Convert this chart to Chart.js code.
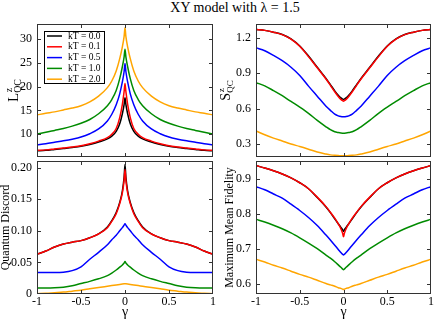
<!DOCTYPE html>
<html><head><meta charset="utf-8">
<script src="https://cdn.jsdelivr.net/npm/chart.js@4/dist/chart.umd.min.js"></script>
<style>
html,body{margin:0;padding:0;background:#fff}
body{width:436px;height:321px;overflow:hidden;position:relative;font-family:"Liberation Serif",serif}
canvas{position:absolute}
#title{position:absolute;left:0;top:0;width:470px;text-align:center;font-size:14px;line-height:normal;color:#000;white-space:nowrap}
</style></head><body>
<div id="title">XY model with λ = 1.5</div>
<canvas id="cL" width="218" height="160" style="left:0;top:0"></canvas>
<canvas id="cS" width="218" height="160" style="left:218px;top:0"></canvas>
<canvas id="cQ" width="218" height="161" style="left:0;top:160px"></canvas>
<canvas id="cF" width="218" height="161" style="left:218px;top:160px"></canvas>
<script>
// ---- data ----
const gamma = [-1,-0.9,-0.8,-0.7,-0.6,-0.5,-0.4,-0.3,-0.2,-0.15,-0.1,-0.06,-0.03,-0.01,0,0.01,0.03,0.06,0.1,0.15,0.2,0.3,0.4,0.5,0.6,0.7,0.8,0.9,1];
const kTLabels = ['kT = 0.0','kT = 0.1','kT = 0.5','kT = 1.0','kT = 2.0'];
const xTicks = [-1,-0.5,0,0.5,1];
const xTickLabels = ['-1','-0.5','0','0.5','1'];

// L^z_QC
const lqc_kT00 = [6.5,6.6,6.8,7.0,7.2,7.45,7.85,8.35,9.0,9.6,10.6,12.2,14.3,16.3,17.7,16.3,14.3,12.2,10.6,9.6,9.0,8.35,7.85,7.45,7.2,7.0,6.8,6.6,6.5];
const lqc_kT01 = [6.6,6.7,6.9,7.1,7.3,7.55,8.0,8.55,9.3,10.0,11.2,13.5,16.3,19.0,20.7,19.0,16.3,13.5,11.2,10.0,9.3,8.55,8.0,7.55,7.3,7.1,6.9,6.7,6.6];
const lqc_kT05 = [7.75,8.0,8.3,8.6,8.95,9.4,10.1,11.1,12.8,14.2,16.2,18.5,21.0,23.2,24.9,23.2,21.0,18.5,16.2,14.2,12.8,11.1,10.1,9.4,8.95,8.6,8.3,8.0,7.75];
const lqc_kT10 = [10.06,10.4,10.8,11.2,11.7,12.3,13.1,14.3,16.0,17.3,19.2,21.7,24.2,26.3,27.9,26.3,24.2,21.7,19.2,17.3,16.0,14.3,13.1,12.3,11.7,11.2,10.8,10.4,10.06];
const lqc_kT20 = [14.06,14.4,14.7,15.1,15.5,16.0,16.8,18.0,19.8,21.2,23.3,25.9,28.4,30.6,32.4,30.6,28.4,25.9,23.3,21.2,19.8,18.0,16.8,16.0,15.5,15.1,14.7,14.4,14.06];
const lqcTicks = [10,15,20,25,30];
const lqcTickLabels = ['10','15','20','25','30'];

// S^z_QC
const sqc_kT00 = [1.270,1.262,1.247,1.227,1.19,1.13,1.045,0.95,0.855,0.803,0.75,0.712,0.69,0.68,0.677,0.68,0.69,0.712,0.75,0.803,0.855,0.95,1.045,1.13,1.19,1.227,1.247,1.262,1.270];
const sqc_kT01 = [1.270,1.262,1.247,1.226,1.188,1.127,1.04,0.945,0.85,0.797,0.742,0.702,0.678,0.667,0.663,0.667,0.678,0.702,0.742,0.797,0.85,0.945,1.04,1.127,1.188,1.226,1.247,1.262,1.270];
const sqc_kT05 = [1.115,1.09,1.05,1.005,0.95,0.88,0.79,0.705,0.62,0.585,0.553,0.538,0.532,0.530,0.530,0.530,0.532,0.538,0.553,0.585,0.62,0.705,0.79,0.88,0.95,1.005,1.05,1.09,1.115];
const sqc_kT10 = [0.82,0.792,0.752,0.709,0.66,0.612,0.56,0.50,0.446,0.421,0.404,0.397,0.393,0.392,0.392,0.392,0.393,0.397,0.404,0.421,0.446,0.50,0.56,0.612,0.66,0.709,0.752,0.792,0.82];
const sqc_kT20 = [0.411,0.378,0.35,0.325,0.30,0.279,0.256,0.232,0.215,0.208,0.204,0.202,0.201,0.200,0.200,0.200,0.201,0.202,0.204,0.208,0.215,0.232,0.256,0.279,0.30,0.325,0.35,0.378,0.411];
const sqcTicks = [0.3,0.6,0.9,1.2];
const sqcTickLabels = ['0.3','0.6','0.9','1.2'];

// Quantum Discord
const qd_kT00 = [0.063,0.068,0.0745,0.079,0.082,0.0845,0.089,0.095,0.106,0.116,0.129,0.145,0.163,0.185,0.205,0.185,0.163,0.145,0.129,0.116,0.106,0.095,0.089,0.0845,0.082,0.079,0.0745,0.068,0.063];
const qd_kT01 = [0.063,0.068,0.0745,0.079,0.082,0.0845,0.089,0.095,0.105,0.115,0.127,0.143,0.16,0.18,0.197,0.18,0.16,0.143,0.127,0.115,0.105,0.095,0.089,0.0845,0.082,0.079,0.0745,0.068,0.063];
const qd_kT05 = [0.034,0.034,0.034,0.0345,0.037,0.043,0.055,0.066,0.078,0.086,0.093,0.1,0.105,0.109,0.111,0.109,0.105,0.1,0.093,0.086,0.078,0.066,0.055,0.043,0.037,0.0345,0.034,0.034,0.034];
const qd_kT10 = [0.0095,0.0095,0.0098,0.0108,0.013,0.0165,0.02,0.024,0.029,0.033,0.038,0.0425,0.046,0.049,0.0515,0.049,0.046,0.0425,0.038,0.033,0.029,0.024,0.02,0.0165,0.013,0.0108,0.0098,0.0095,0.0095];
const qd_kT20 = [0.0005,0.001,0.002,0.003,0.0045,0.006,0.0082,0.0103,0.0123,0.0133,0.0143,0.0151,0.0157,0.0161,0.0163,0.0161,0.0157,0.0151,0.0143,0.0133,0.0123,0.0103,0.0082,0.006,0.0045,0.003,0.002,0.001,0.0005];
const qdTicks = [0,0.05,0.1,0.15,0.2];
const qdTickLabels = ['0','0.05','0.10','0.15','0.20'];

// Maximum Mean Fidelity
const mf_kT00 = [0.938,0.931,0.923,0.914,0.903,0.889,0.872,0.847,0.82,0.804,0.786,0.772,0.762,0.755,0.750,0.755,0.762,0.772,0.786,0.804,0.82,0.847,0.872,0.889,0.903,0.914,0.923,0.931,0.938];
const mf_kT01 = [0.938,0.931,0.923,0.914,0.903,0.889,0.872,0.848,0.821,0.805,0.788,0.772,0.758,0.745,0.735,0.745,0.758,0.772,0.788,0.805,0.821,0.848,0.872,0.889,0.903,0.914,0.923,0.931,0.938];
const mf_kT05 = [0.878,0.869,0.857,0.845,0.828,0.81,0.79,0.767,0.74,0.726,0.711,0.699,0.69,0.685,0.683,0.685,0.69,0.699,0.711,0.726,0.74,0.767,0.79,0.81,0.828,0.845,0.857,0.869,0.878];
const mf_kT10 = [0.785,0.777,0.768,0.758,0.746,0.732,0.717,0.701,0.683,0.674,0.664,0.655,0.648,0.643,0.641,0.643,0.648,0.655,0.664,0.674,0.683,0.701,0.717,0.732,0.746,0.758,0.768,0.777,0.785];
const mf_kT20 = [0.671,0.663,0.654,0.646,0.637,0.628,0.62,0.611,0.602,0.598,0.594,0.59,0.588,0.586,0.585,0.586,0.588,0.59,0.594,0.598,0.602,0.611,0.62,0.628,0.637,0.646,0.654,0.663,0.671];
const mfTicks = [0.6,0.7,0.8,0.9];
const mfTickLabels = ['0.6','0.7','0.8','0.9'];

// ---- styling ----
const FONT = '"Liberation Serif", "Times New Roman", serif';
const lineColors = ['#000000','#ff0000','#0000ff','#008b00','#ffa500'];

const frameTicks = {
  id: 'frameTicks',
  afterDraw(chart, args, o) {
    const {ctx, chartArea: a, scales: {x, y}} = chart;
    ctx.save();
    ctx.strokeStyle = '#333';
    ctx.lineWidth = 1;
    ctx.strokeRect(Math.round(a.left) + 0.5, Math.round(a.top) + 0.5, Math.round(a.right - a.left) - 1, Math.round(a.bottom - a.top) - 1);
    ctx.beginPath();
    const L = 4;
    xTicks.forEach(v => {
      const px = Math.round(x.getPixelForValue(v)) + 0.5;
      if (px > a.left + 2 && px < a.right - 2) {
        ctx.moveTo(px, a.bottom); ctx.lineTo(px, a.bottom - L);
        ctx.moveTo(px, a.top); ctx.lineTo(px, a.top + L);
      }
    });
    o.yTicks.forEach(v => {
      const py = Math.round(y.getPixelForValue(v)) + 0.5;
      if (py > a.top + 2 && py < a.bottom - 2) {
        ctx.moveTo(a.left, py); ctx.lineTo(a.left + L, py);
        ctx.moveTo(a.right, py); ctx.lineTo(a.right - L, py);
      }
    });
    ctx.stroke();
    ctx.restore();
  }
};

const fancyTitle = {
  id: 'fancyTitle',
  afterDraw(chart, args, o) {
    if (!o.main) return;
    const {ctx, chartArea: a} = chart;
    const cy = (a.top + a.bottom) / 2;
    ctx.save();
    ctx.translate(o.x, cy);
    ctx.rotate(-Math.PI / 2);
    ctx.fillStyle = '#000';
    ctx.textBaseline = 'alphabetic';
    ctx.textAlign = 'left';
    ctx.font = o.size + 'px ' + FONT;
    const wM = ctx.measureText(o.main).width;
    ctx.font = o.small + 'px ' + FONT;
    const wSub = ctx.measureText(o.sub).width;
    const wSup = ctx.measureText(o.sup).width;
    const total = wM + Math.max(wSub, wSup);
    const s = -total / 2;
    ctx.font = o.size + 'px ' + FONT;
    ctx.fillText(o.main, s, 0);
    ctx.font = o.small + 'px ' + FONT;
    ctx.fillText(o.sub, s + wM, o.subShift);
    ctx.fillText(o.sup, s + wM + 0.5, o.supShift);
    ctx.restore();
  }
};

const boxLegend = {
  id: 'boxLegend',
  afterDraw(chart, args, o) {
    if (!o.show) return;
    const {ctx, chartArea: a} = chart;
    const x0 = Math.round(a.left + o.dx), y0 = Math.round(a.top + o.dy);
    ctx.save();
    ctx.fillStyle = '#fff';
    ctx.fillRect(x0, y0, o.w, o.h);
    ctx.strokeStyle = '#000';
    ctx.lineWidth = 1;
    ctx.strokeRect(x0 + 0.5, y0 + 0.5, o.w, o.h);
    ctx.font = o.fontSize + 'px ' + FONT;
    ctx.textBaseline = 'middle';
    ctx.textAlign = 'left';
    chart.data.datasets.forEach((ds, i) => {
      const yy = y0 + o.first + i * o.step;
      ctx.strokeStyle = ds.borderColor;
      ctx.lineWidth = 1.5;
      ctx.beginPath();
      ctx.moveTo(x0 + o.l1, yy); ctx.lineTo(x0 + o.l2, yy);
      ctx.stroke();
      ctx.fillStyle = '#000';
      ctx.fillText(ds.label, x0 + o.tx, yy);
    });
    ctx.restore();
  }
};

function zeroPad(s) { s.paddingTop = 0; s.paddingBottom = 0; s.paddingLeft = 0; s.paddingRight = 0; }

function makeChart(id, series, cfg) {
  const datasets = series.map((vals, i) => ({
    label: kTLabels[i],
    data: vals.map((v, j) => ({x: gamma[j], y: v})),
    borderColor: lineColors[i],
    backgroundColor: lineColors[i],
    borderWidth: 1.5,
    pointRadius: 0,
    fill: false,
    cubicInterpolationMode: 'monotone',
    order: -i
  }));
  return new Chart(document.getElementById(id), {
    type: 'line',
    data: {datasets},
    plugins: [frameTicks, fancyTitle, boxLegend],
    options: {
      responsive: false,
      animation: false,
      devicePixelRatio: 1,
      events: [],
      layout: {autoPadding: false, padding: {top: cfg.padTop, right: 5, bottom: 0, left: 0}},
      scales: {
        x: {
          type: 'linear', min: -1, max: 1,
          afterBuildTicks: s => { s.ticks = xTicks.map(v => ({value: v})); },
          ticks: {display: cfg.showX, callback: (v, i) => xTickLabels[i], font: {family: FONT, size: 12}, color: '#000', padding: 1, maxRotation: 0, autoSkip: false},
          grid: {display: false, drawTicks: false},
          border: {display: false},
          title: {display: cfg.showX, text: 'γ', font: {family: FONT, size: 14, lineHeight: 1}, color: '#000', padding: {top: 0, bottom: 2}},
          afterFit: s => { s.height = cfg.xH; zeroPad(s); }
        },
        y: {
          min: cfg.yMin, max: cfg.yMax,
          afterBuildTicks: s => { s.ticks = cfg.yTicks.map(v => ({value: v})); },
          ticks: {callback: (v, i) => cfg.yLabels[i], font: {family: FONT, size: 12}, color: '#000', padding: 5, autoSkip: false},
          grid: {display: false, drawTicks: false},
          border: {display: false},
          title: {display: !!cfg.yTitle, text: cfg.yTitle || '', font: {family: FONT, size: 12, lineHeight: 1}, color: '#000', padding: {top: cfg.yTitlePad || 0, bottom: 0}},
          afterFit: s => { s.width = cfg.yW; zeroPad(s); }
        }
      },
      plugins: {
        legend: {display: false},
        tooltip: {enabled: false},
        frameTicks: {yTicks: cfg.yTicks},
        fancyTitle: cfg.fancy || {},
        boxLegend: cfg.legend || {show: false}
      }
    }
  });
}

makeChart('cL', [lqc_kT00, lqc_kT01, lqc_kT05, lqc_kT10, lqc_kT20], {
  padTop: 24, showX: false, xH: 3, yMin: 5.2, yMax: 33.2, yTicks: lqcTicks, yLabels: lqcTickLabels, yW: 37,
  fancy: {main: 'L', sub: 'QC', sup: 'z', x: 18, size: 15, small: 10, subShift: 3, supShift: -6},
  legend: {show: true, dx: 7, dy: 7, w: 60, h: 52, first: 5, step: 10.8, l1: 3, l2: 18, tx: 24, fontSize: 9.5}
});
makeChart('cS', [sqc_kT00, sqc_kT01, sqc_kT05, sqc_kT10, sqc_kT20], {
  padTop: 24, showX: false, xH: 3, yMin: 0.19, yMax: 1.316, yTicks: sqcTicks, yLabels: sqcTickLabels, yW: 38,
  fancy: {main: 'S', sub: 'QC', sup: 'z', x: 12, size: 14, small: 9, subShift: 3, supShift: -6}
});
makeChart('cQ', [qd_kT00, qd_kT01, qd_kT05, qd_kT10, qd_kT20], {
  padTop: 1, showX: true, xH: 27, yMin: 0, yMax: 0.2105, yTicks: qdTicks, yLabels: qdTickLabels, yW: 37,
  yTitle: 'Quantum Discord', yTitlePad: 0
});
makeChart('cF', [mf_kT00, mf_kT01, mf_kT05, mf_kT10, mf_kT20], {
  padTop: 1, showX: true, xH: 27, yMin: 0.572, yMax: 0.951, yTicks: mfTicks, yLabels: mfTickLabels, yW: 38,
  yTitle: 'Maximum Mean Fidelity', yTitlePad: 6
});
</script>
</body></html>
